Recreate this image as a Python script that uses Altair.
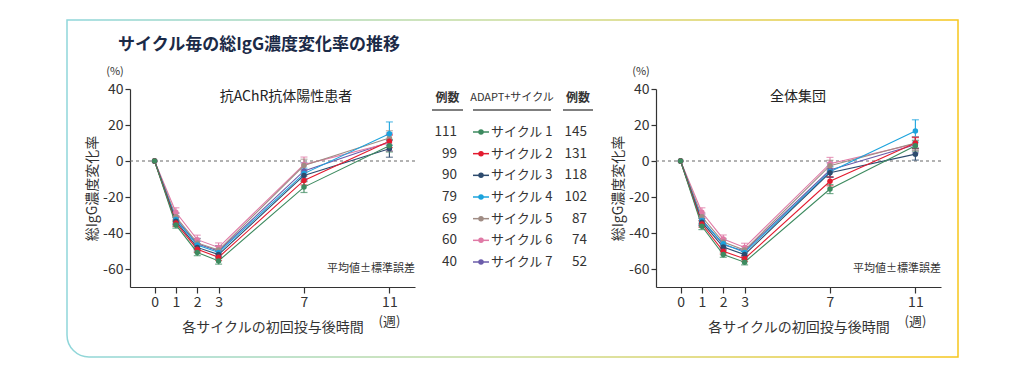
import altair as alt
import pandas as pd

FONT = "Noto Sans CJK JP"

weeks = [0, 1, 2, 3, 7, 11]
y_ticks = [-60, -40, -20, 0, 20, 40]
cycles = ["サイクル 1", "サイクル 2", "サイクル 3", "サイクル 4", "サイクル 5", "サイクル 6", "サイクル 7"]
colors = ["#3d8a5f", "#e31b2f", "#2d4b6e", "#1ba3dd", "#a08c84", "#e07aa6", "#6b5caa"]
n_achr = [111, 99, 90, 79, 69, 60, 40]
n_all = [145, 131, 118, 102, 87, 74, 52]

# 抗AChR抗体陽性患者 : mean % change per cycle (rows) and week (cols)
achr_mean = [
    [0, -35.5, -50.8, -55.5, -14.5, 8.5],
    [0, -34.5, -49.0, -53.5, -10.8, 11.0],
    [0, -33.5, -48.0, -52.0, -8.0, 6.8],
    [0, -32.5, -46.7, -50.8, -7.0, 15.2],
    [0, -31.0, -45.5, -49.5, -2.5, 12.8],
    [0, -28.5, -43.7, -48.0, -2.0, 10.0],
    [0, -32.0, -46.0, -50.0, -5.5, 10.5],
]
achr_se = [
    [0, 1.8, 1.8, 1.8, 3.0, 3.5],
    [0, 1.8, 1.8, 1.8, 2.5, 3.5],
    [0, 2.0, 2.0, 2.0, 3.0, 4.7],
    [0, 2.0, 2.0, 2.0, 3.0, 6.5],
    [0, 2.2, 2.2, 2.2, 3.5, 4.0],
    [0, 2.5, 2.5, 2.5, 4.2, 4.5],
    [0, 3.0, 3.0, 3.0, 4.5, 5.0],
]
# 全体集団
all_mean = [
    [0, -36.3, -52.0, -56.2, -15.6, 8.5],
    [0, -35.0, -50.2, -54.3, -11.3, 10.0],
    [0, -34.0, -47.8, -52.0, -6.5, 3.8],
    [0, -33.0, -46.0, -50.8, -6.0, 16.7],
    [0, -31.0, -45.0, -49.5, -2.6, 10.0],
    [0, -28.5, -43.3, -48.0, -1.5, 9.5],
    [0, -32.5, -46.5, -50.0, -5.0, 9.0],
]
all_se = [
    [0, 1.8, 1.5, 1.5, 2.5, 3.0],
    [0, 1.8, 1.5, 1.5, 2.5, 3.0],
    [0, 2.0, 1.8, 1.8, 2.5, 3.3],
    [0, 2.0, 2.0, 2.0, 3.0, 6.2],
    [0, 2.2, 2.0, 2.0, 3.0, 3.5],
    [0, 2.5, 2.2, 2.3, 3.5, 3.8],
    [0, 3.0, 2.5, 2.5, 4.0, 4.5],
]


def make_df(means, ses):
    rows = []
    # cycle 7 first so that cycle 1 is drawn on top
    for ci in reversed(range(len(cycles))):
        c = cycles[ci]
        for wi, w in enumerate(weeks):
            m = means[ci][wi]
            s = ses[ci][wi]
            rows.append(dict(cycle=c, order=ci, week=w, mean=m, lo=m - s, hi=m + s))
    return pd.DataFrame(rows)


one = pd.DataFrame({"k": [0]})
unit_week = pd.DataFrame({"week": [weeks[-1]]})

xscale = alt.Scale(domain=[-1.15, 12.2], nice=False, zero=False)
yscale = alt.Scale(domain=[-70, 40], nice=False, zero=False)
cscale = alt.Scale(domain=cycles, range=colors)

x_axis = alt.Axis(
    values=weeks, title="各サイクルの初回投与後時間", grid=False,
    tickSize=6, labelPadding=2,
    titleY=40, titleBaseline="middle",
)
y_axis = alt.Axis(
    values=y_ticks, title="総IgG濃度変化率", grid=False,
    labelExpr="datum.value + ''", tickSize=5, labelPadding=2,
    titleX=-38, titleBaseline="middle",
)


def txt(text, x, y, size=13, align="center", weight="normal", color="#333333"):
    return alt.Chart(one).mark_text(
        text=text, align=align, baseline="middle", fontSize=size,
        fontWeight=weight, color=color, font=FONT,
    ).encode(x=alt.value(x), y=alt.value(y))


def panel(df, subtitle, sub_x, frame=False):
    base = alt.Chart(df)
    X = alt.X("week:Q", scale=xscale, axis=x_axis)
    color = alt.Color("cycle:N", scale=cscale, legend=None)
    zero = alt.Chart(one).mark_rule(
        color="#666666", strokeDash=[3, 3], strokeWidth=1
    ).encode(y=alt.Y("z:Q", scale=yscale, axis=y_axis)).transform_calculate(z="0")
    err = base.mark_rule(strokeWidth=1.1).encode(
        x=X, y=alt.Y("lo:Q", scale=yscale, axis=y_axis), y2="hi:Q", color=color,
    ).transform_filter("datum.week > 0")
    cap_lo = base.mark_tick(orient="horizontal", size=7, thickness=1.2).encode(
        x=X, y=alt.Y("lo:Q", scale=yscale, axis=y_axis), color=color,
    ).transform_filter("datum.week > 0")
    cap_hi = base.mark_tick(orient="horizontal", size=7, thickness=1.2).encode(
        x=X, y=alt.Y("hi:Q", scale=yscale, axis=y_axis), color=color,
    ).transform_filter("datum.week > 0")
    line = base.mark_line(strokeWidth=1.1).encode(
        x=X, y=alt.Y("mean:Q", scale=yscale, axis=y_axis), color=color,
        detail="cycle:N", order="week:Q",
    )
    pts = base.mark_circle(size=30, opacity=1).encode(
        x=X, y=alt.Y("mean:Q", scale=yscale, axis=y_axis), color=color,
    )
    unit = alt.Chart(unit_week).mark_text(
        text="(週)", align="center", baseline="middle", fontSize=13,
        color="#333333", font=FONT,
    ).encode(x=alt.X("week:Q", scale=xscale, axis=x_axis), y=alt.value(233))
    layers = [zero, err, cap_lo, cap_hi, line, pts, unit,
              txt("(%)", -15, -17, size=11),
              txt(subtitle, sub_x, 8, size=14, color="#222222"),
              txt("平均値±標準誤差", 285, 180, size=11, align="right")]
    if frame:
        grad = alt.LinearGradient(
            gradient="linear",
            stops=[alt.GradientStop(color="#8fd6da", offset=0),
                   alt.GradientStop(color="#c9dc9a", offset=0.5),
                   alt.GradientStop(color="#f6c61c", offset=1)],
            x1=0, x2=1, y1=0, y2=0,
        )
        box = alt.Chart(one).mark_rect(
            stroke=grad, strokeWidth=1.5, fillOpacity=0, cornerRadiusBottomLeft=22,
        ).encode(x=alt.value(-63), x2=alt.value(828), y=alt.value(-69), y2=alt.value(268))
        title = txt("サイクル毎の総IgG濃度変化率の推移", -12, -44, size=17,
                    align="left", weight="bold", color="#1b2a47")
        layers = [box, title] + layers
    return alt.layer(*layers).properties(width=285, height=198)


left = panel(make_df(achr_mean, achr_se), "抗AChR抗体陽性患者", 156, frame=True)
right = panel(make_df(all_mean, all_se), "全体集団", 142)

leg_df = pd.DataFrame({
    "cycle": cycles,
    "n1": [str(n) for n in n_achr],
    "n2": [str(n) for n in n_all],
})
LY = alt.Y("cycle:N", scale=alt.Scale(type="point", domain=cycles, range=[43, 173], padding=0), axis=None)
lcolor = alt.Color("cycle:N", scale=cscale, legend=None)
lbase = alt.Chart(leg_df)
leg_layers = [
    lbase.mark_text(align="right", baseline="middle", fontSize=13.5, color="#333333", font=FONT).encode(
        x=alt.value(32), y=LY, text="n1:N"),
    lbase.mark_rule(strokeWidth=1.5).encode(x=alt.value(48), x2=alt.value(64), y=LY, color=lcolor),
    lbase.mark_circle(size=30, opacity=1).encode(x=alt.value(56), y=LY, color=lcolor),
    lbase.mark_text(align="left", baseline="middle", fontSize=13, color="#333333", font=FONT).encode(
        x=alt.value(66), y=LY, text="cycle:N"),
    lbase.mark_text(align="right", baseline="middle", fontSize=13.5, color="#333333", font=FONT).encode(
        x=alt.value(162), y=LY, text="n2:N"),
    txt("例数", 22.5, 9, size=12, weight="bold", color="#333333"),
    txt("ADAPT+サイクル", 87, 9, size=11, color="#333333"),
    txt("例数", 153, 9, size=12, weight="bold", color="#333333"),
]
for x1, x2 in [(7, 38), (48, 126), (138, 168)]:
    leg_layers.append(
        alt.Chart(one).mark_rule(color="#555555", strokeWidth=1.5).encode(
            x=alt.value(x1), x2=alt.value(x2), y=alt.value(21))
    )
legend = alt.layer(*leg_layers).properties(width=221, height=198)

chart = alt.hconcat(left, legend, right, spacing=10, bounds="flush").resolve_scale(
    color="independent", y="independent", x="independent"
).properties(
    padding={"left": 58, "top": 11, "right": 5, "bottom": 5},
    background="white",
).configure_view(strokeWidth=0).configure_axis(
    domainColor="#333333", tickColor="#333333", labelColor="#333333",
    titleColor="#333333", labelFont=FONT, titleFont=FONT,
    labelFontSize=14, titleFontSize=14, titleFontWeight="normal",
    domainWidth=1.2, tickWidth=1.2,
)

chart.save("out.html", embed_options={"renderer": "svg", "actions": False})
